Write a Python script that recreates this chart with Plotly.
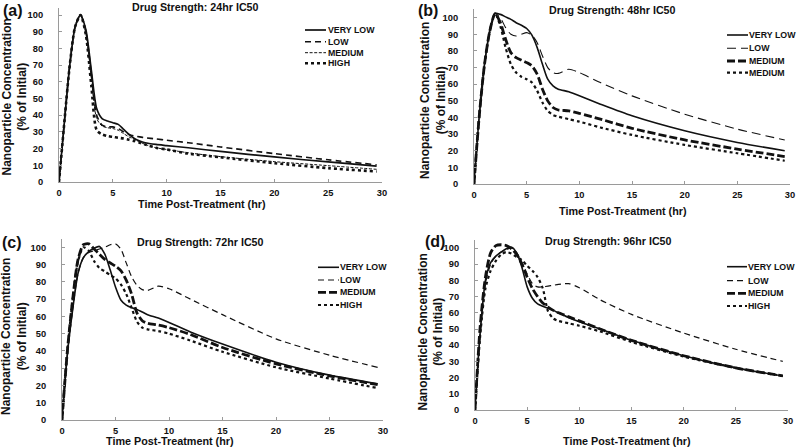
import plotly.graph_objects as go

# ---------------- data ----------------
T = [0, 0.5, 1, 1.5, 2, 2.5, 3, 3.5, 4, 4.5, 5, 5.5, 6, 6.5, 7, 7.5, 8, 9, 10, 12, 15, 20, 25, 29.5]

A_VERY_LOW = [0, 36, 70, 93, 100, 91, 67, 44, 38, 36.5, 35.5, 34.5, 31.5, 28.5, 26, 24.5, 23.5, 22.5, 21.8, 20.5, 18.3, 15, 12, 9.5]
A_LOW      = [0, 36, 70, 93, 100, 90, 65, 40, 34, 33, 33, 32, 30, 28.5, 27.5, 27, 26.5, 25.8, 25, 23.5, 21, 17, 13.3, 10.3]
A_MEDIUM   = [0, 36, 70, 93, 100, 89, 62, 38, 33.5, 32.5, 32, 31, 29, 27, 25.5, 24, 22.5, 20.5, 19.5, 17.5, 15.2, 12.2, 9.8, 7.6]
A_HIGH     = [0, 36, 70, 93, 100, 88, 58, 31, 28.5, 27.5, 27, 26.5, 26, 25.3, 24.5, 23.5, 22.5, 20.5, 19.5, 17, 14.8, 11.3, 8.3, 6.3]

B_VERY_LOW = [0, 41, 72, 92, 102.5, 102, 100.5, 99, 97, 95.5, 93.5, 89.5, 82, 72, 63, 59, 57, 55.5, 53, 48, 41, 32, 25, 20]
B_LOW      = [0, 41, 72, 92, 102.5, 100, 94, 90, 89, 90, 91, 89.5, 85, 77, 70, 67, 66.5, 69, 67, 61, 53, 42, 33, 26.5]
B_MEDIUM   = [0, 41, 72, 92, 102.5, 97, 87, 79, 76, 74.5, 73, 71, 66, 57, 50, 46, 44.5, 44, 42.5, 39, 33.5, 26.5, 21, 16.5]
B_MEDIUM_2 = [0, 41, 72, 92, 102.5, 95, 82, 72, 67, 64.5, 63, 61, 56, 49, 44, 41.5, 40.5, 39, 37.5, 34, 29.5, 23.5, 18.5, 14]

C_VERY_LOW = [0, 38, 64, 85, 94, 97.5, 99.5, 100.5, 96, 87, 77, 69.5, 66.5, 65, 64, 62.5, 61, 59, 56.5, 51, 44, 33.5, 26, 21]
C_LOW      = [0, 38, 64, 85, 94, 97, 98, 99, 100, 101.5, 102, 99, 91, 83, 78, 75.5, 75, 77.5, 76, 70, 61, 47, 37.5, 30.5]
C_MEDIUM   = [0, 40, 70, 93, 101.5, 102, 99, 96, 93, 91, 89, 86.5, 81, 73, 62, 57.5, 56, 55, 53.5, 49.5, 42, 32.5, 25.5, 20.5]
C_HIGH     = [0, 40, 70, 92, 100, 98, 92, 88, 86, 84, 82, 78.5, 73, 65, 57, 53.5, 52.5, 51.5, 50, 46, 39.5, 30.5, 24, 18.5]

D_VERY_LOW = [0, 48, 80, 91, 95, 97.5, 99.5, 100.5, 97, 88, 76, 69, 65.5, 64, 62.8, 61.5, 60, 57, 54.5, 50, 43, 33.5, 26, 21]
D_LOW      = [0, 48, 78, 90, 95, 97.5, 99, 100, 97, 91, 84, 78, 76, 76, 76.5, 77, 77.5, 78, 75.5, 68, 59, 47.5, 37.5, 30]
D_MEDIUM   = [0, 52, 82, 97, 101.5, 102, 101.5, 99.5, 96, 90, 82, 75, 70, 66, 63.5, 61.5, 60, 57.5, 55, 50, 43, 33.5, 26, 21]
D_HIGH     = [0, 46, 75, 86, 92, 96, 97.5, 96.5, 94.5, 92.5, 89, 86, 82, 75, 61, 56.5, 55, 53.5, 52, 48.5, 42, 33, 26, 21]

NAMES_A = ["VERY LOW", "LOW", "MEDIUM", "HIGH"]
NAMES_B = ["VERY LOW", "LOW", "MEDIUM", "MEDIUM"]
NAMES_C = ["VERY LOW", "LOW", "MEDIUM", "HIGH"]
NAMES_D = ["VERY LOW", "LOW", "MEDIUM", "HIGH"]

PANEL_LABELS = ["(a)", "(b)", "(c)", "(d)"]
SUBTITLES = ["Drug Strength: 24hr IC50", "Drug Strength: 48hr IC50",
             "Drug Strength: 72hr IC50", "Drug Strength: 96hr IC50"]
X_TITLE = "Time Post-Treatment (hr)"
Y_TITLE = "Nanoparticle Concentration<br>(% of Initial)"
X_TICKS = [0, 5, 10, 15, 20, 25, 30]
Y_TICKS = [0, 10, 20, 30, 40, 50, 60, 70, 80, 90, 100]

# ---------------- styles / layout ----------------
W, H = 800, 448
def PX(x): return x / W
def PY(y): return 1 - y / H

INK = "#111111"
AX = "#9a9a9a"
FONT = "Liberation Sans"

STY_A = [dict(dash="solid", width=1.7), dict(dash="6px,4px", width=1.6),
         dict(dash="3px,1.6px", width=1.0), dict(dash="dot", width=2.6)]
STY_B = [dict(dash="solid", width=1.6), dict(dash="9px,5px", width=1.1),
         dict(dash="8px,3px", width=2.8), dict(dash="dot", width=2.2)]
STY_C = [dict(dash="solid", width=1.6), dict(dash="6px,4px", width=1.2),
         dict(dash="8px,3px", width=2.8), dict(dash="dot", width=2.2)]
STY_D = STY_C

panels = [
    dict(series=[A_VERY_LOW, A_LOW, A_MEDIUM, A_HIGH], names=NAMES_A, sty=STY_A,
         xdom=[59, 382], y0=182, ppu=1.67, ymax=104,
         lab=(12.5, 11), sub=(195, 7), yt=(14, 97.5), xt=(202, 204),
         leg=dict(x0=305, x1=326, tx=327, rows=[30, 41.7, 52.7, 63.3])),
    dict(series=[B_VERY_LOW, B_LOW, B_MEDIUM, B_MEDIUM_2], names=NAMES_B, sty=STY_B,
         xdom=[474, 790], y0=184, ppu=1.663, ymax=105,
         lab=(427.5, 10), sub=(612, 10), yt=(433, 101), xt=(623, 211),
         leg=dict(x0=727, x1=748, tx=748, rows=[35, 48.3, 61, 72.7])),
    dict(series=[C_VERY_LOW, C_LOW, C_MEDIUM, C_HIGH], names=NAMES_C, sty=STY_C,
         xdom=[62, 383], y0=420, ppu=1.727, ymax=105,
         lab=(12, 242), sub=(201, 242), yt=(14, 337), xt=(170, 441),
         leg=dict(x0=318, x1=339, tx=339, rows=[267.3, 280, 292.3, 305])),
    dict(series=[D_VERY_LOW, D_LOW, D_MEDIUM, D_HIGH], names=NAMES_D, sty=STY_D,
         xdom=[475, 788], y0=410, ppu=1.62, ymax=105,
         lab=(435, 241), sub=(608, 241), yt=(430.5, 332), xt=(627, 441),
         leg=dict(x0=727, x1=747, tx=747, rows=[266.7, 280.7, 293.3, 306])),
]

fig = go.Figure()
annotations = []
shapes = []

def bold(s):
    return dict(family=FONT, size=s, color=INK, weight="bold")

for i, p in enumerate(panels):
    k = "" if i == 0 else str(i + 1)
    xa, ya = "x" + k, "y" + k
    for vals, name, st in zip(p["series"], p["names"], p["sty"]):
        fig.add_trace(go.Scatter(
            x=T, y=vals, name=name, mode="lines", xaxis=xa, yaxis=ya,
            line=dict(color=INK, width=st["width"], dash=st["dash"],
                      shape="spline", smoothing=0.7),
            showlegend=False, hoverinfo="x+y+name"))
    ytop = p["y0"] - p["ymax"] * p["ppu"]
    axis_common = dict(showgrid=False, zeroline=False, showline=True,
                       linecolor=AX, linewidth=1, ticks="inside", ticklen=3,
                       tickcolor=AX, tickwidth=1, automargin=False,
                       tickfont=bold(9.3))
    fig.update_layout(**{
        "xaxis" + k: dict(axis_common, domain=[PX(p["xdom"][0]), PX(p["xdom"][1])],
                          range=[0, 30], tickvals=X_TICKS, anchor=ya,
                          ticklabelstandoff=2),
        "yaxis" + k: dict(axis_common, domain=[PY(p["y0"]), PY(ytop)],
                          range=[0, p["ymax"]], tickvals=Y_TICKS, anchor=xa,
                          ticklabelstandoff=13),
    })
    annotations.append(dict(text=PANEL_LABELS[i], x=PX(p["lab"][0]), y=PY(p["lab"][1]),
                            xref="paper", yref="paper", showarrow=False,
                            xanchor="center", yanchor="middle", font=bold(16)))
    annotations.append(dict(text=SUBTITLES[i], x=PX(p["sub"][0]), y=PY(p["sub"][1]),
                            xref="paper", yref="paper", showarrow=False,
                            xanchor="center", yanchor="middle", font=bold(10.7)))
    annotations.append(dict(text=Y_TITLE, x=PX(p["yt"][0]), y=PY(p["yt"][1]),
                            xref="paper", yref="paper", showarrow=False, textangle=-90,
                            xanchor="center", yanchor="middle", font=bold(12)))
    annotations.append(dict(text=X_TITLE, x=PX(p["xt"][0]), y=PY(p["xt"][1]),
                            xref="paper", yref="paper", showarrow=False,
                            xanchor="center", yanchor="middle", font=bold(10.8),
                            borderpad=0))
    lg = p["leg"]
    for name, st, ry in zip(p["names"], p["sty"], lg["rows"]):
        shapes.append(dict(type="line", xref="paper", yref="paper",
                           x0=PX(lg["x0"]), x1=PX(lg["x1"]), y0=PY(ry), y1=PY(ry),
                           line=dict(color=INK, width=st["width"], dash=st["dash"])))
        annotations.append(dict(text=name, x=PX(lg["tx"]), y=PY(ry),
                                xref="paper", yref="paper", showarrow=False,
                                xanchor="left", yanchor="middle", font=bold(8.8),
                                borderpad=0))

fig.update_layout(width=W, height=H,
                  margin=dict(l=0, r=0, t=0, b=0, pad=0, autoexpand=False),
                  paper_bgcolor="white", plot_bgcolor="white",
                  showlegend=False, annotations=annotations, shapes=shapes,
                  font=dict(family=FONT, color=INK))

fig.write_html("out.html",
               config={"displayModeBar": False},
               post_script="document.body.style.margin='0';"
                           "document.body.style.overflow='hidden';")
